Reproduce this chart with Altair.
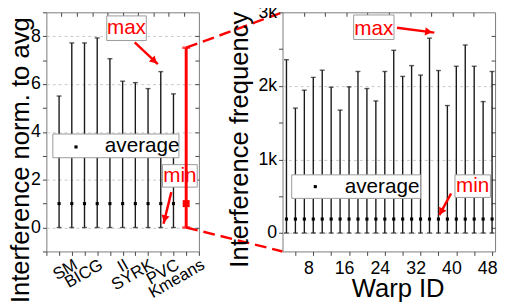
import math
import altair as alt
import pandas as pd

FONT = "Liberation Sans"
RED = "#ff0000"

# ---------------- data ----------------
bench_x = [1, 2, 3, 4, 5, 6, 7, 8, 9, 10]
bench_max = [5.50, 7.72, 7.72, 7.93, 7.06, 6.12, 6.06, 5.81, 6.52, 5.59]
bench_min = [0, 0, 0, 0, 0, 0, 0, 0, 0, 0]
bench_avg = [1, 1, 1, 1, 1, 1, 1, 1, 1, 1]
kmeans_x = [11]
kmeans_max = [7.52]
kmeans_min = [0]
kmeans_avg = [1.0]
bench_label_ticks = [2, 4, 6, 8, 10, 12]
bench_label_names = ["SM", "BICG", "II", "SYRK", "PVC", "Kmeans"]

warp_ids = [2, 4, 6, 8, 10, 12, 14, 16, 18, 20, 22, 24,
            26, 28, 30, 32, 34, 36, 38, 40, 42, 44, 46, 48]
warp_max = [2356, 1698, 1942, 2116, 2213, 1982, 1671, 1987, 2196, 1964, 1796, 2196,
            2484, 2129, 2276, 2147, 2649, 2209, 1733, 2267, 2556, 2267, 1787, 2196]
warp_min = [0, 0, 0, 0, 0, 0, 0, 0, 0, 0, 0, 0,
            0, 0, 0, 0, 0, 0, 0, 0, 0, 0, 0, 0]
warp_avg = [190, 190, 190, 190, 190, 190, 190, 190, 190, 190, 190, 190,
            190, 190, 190, 190, 190, 190, 190, 190, 190, 190, 190, 190]

# ---------------- layout ----------------
LEFT_W, RIGHT_W, H = 155, 216, 243
SPACING = 85
L_DOM_X, L_DOM_Y = [0, 12], [-1, 9]
R_DOM_X, R_DOM_Y = [1.12, 48.67], [-250, 3000]

LX = alt.Scale(domain=L_DOM_X, nice=False, zero=False)
LY = alt.Scale(domain=L_DOM_Y, nice=False, zero=False)
RX = alt.Scale(domain=R_DOM_X, nice=False, zero=False)
RY = alt.Scale(domain=R_DOM_Y, nice=False, zero=False)

# annotations (data units of each panel)
l_boxes = pd.DataFrame({"x": [4.75, 9.14, 0.51], "x2": [7.86, 11.87, 10.43],
                        "y": [8.85, 2.63, 3.91], "y2": [7.82, 1.69, 2.92]})
l_red_text = pd.DataFrame({"x": [6.3, 10.5], "y": [8.33, 2.16], "t": ["max", "min"]})
l_avg_text = pd.DataFrame({"x": [4.6], "y": [3.41], "t": ["average"]})
l_avg_mark = pd.DataFrame({"x": [2.33], "y": [3.37]})
l_arrows = pd.DataFrame({"x": [6.95, 9.83], "y": [7.74, 1.48],
                         "x2": [8.77, 9.22], "y2": [6.83, 0.16]})

r_boxes = pd.DataFrame({"x": [17.03, 39.70, 3.17], "x2": [26.06, 47.63, 32.0],
                        "y": [2964, 791, 791], "y2": [2631, 484, 471]})
r_red_text = pd.DataFrame({"x": [21.55, 43.67], "y": [2771, 637], "t": ["max", "min"]})
r_avg_text = pd.DataFrame({"x": [15.05], "y": [631], "t": ["average"]})
r_avg_mark = pd.DataFrame({"x": [8.45], "y": [631]})
r_arrows = pd.DataFrame({"x": [26.72, 38.83], "y": [2791, 537],
                         "x2": [35.08, 36.19], "y2": [2724, 244]})


def heads(df, dom_x, dom_y, w, h):
    kx = w / (dom_x[1] - dom_x[0])
    ky = h / (dom_y[1] - dom_y[0])
    rows = []
    for _, r in df.iterrows():
        dx = (r.x2 - r.x) * kx
        dy = -(r.y2 - r.y) * ky
        ang = math.degrees(math.atan2(dy, dx)) % 360
        rows.append({"x": r.x + 0.85 * (r.x2 - r.x), "y": r.y + 0.85 * (r.y2 - r.y), "a": ang})
    return pd.DataFrame(rows)


def lbl_expr(ticks, names):
    e = "''"
    for t, n in zip(reversed(ticks), reversed(names)):
        e = f"datum.value == {t} ? '{n}' : ({e})"
    return e


def panel(df_main, sx, sy, dom_x, dom_y, w, xaxis, yaxis, top_vals, right_vals,
          boxes, red_text, avg_text, avg_mark, arrows, cap, extra=None):
    top_axis = alt.Axis(orient="top", values=top_vals, labels=False, domain=False, grid=False,
                        tickSize=4, offset=-4, title=None)
    right_axis = alt.Axis(orient="right", values=right_vals, labels=False, domain=False,
                          grid=False, tickSize=4, offset=-4, title=None)
    base = alt.Chart(df_main)
    rules = base.mark_rule(color="#1a1a1a", strokeWidth=1.4).encode(
        x=alt.X("x:Q", scale=sx, axis=xaxis),
        y=alt.Y("lo:Q", scale=sy, axis=yaxis),
        y2="hi:Q")
    caps_hi = base.mark_tick(orient="horizontal", size=cap, thickness=1.4, color="#1a1a1a").encode(
        x=alt.X("x:Q", scale=sx, axis=top_axis),
        y=alt.Y("hi:Q", scale=sy, axis=right_axis))
    caps_lo = base.mark_tick(orient="horizontal", size=cap, thickness=1.4, color="#1a1a1a").encode(
        x=alt.X("x:Q", scale=sx, axis=None), y=alt.Y("lo:Q", scale=sy, axis=None))
    avg = base.mark_square(size=10, color="black", opacity=1).encode(
        x=alt.X("x:Q", scale=sx, axis=None), y=alt.Y("avg:Q", scale=sy, axis=None))

    box = alt.Chart(boxes).mark_rect(fill="white", stroke="#9a9a9a", strokeWidth=1).encode(
        x=alt.X("x:Q", scale=sx, axis=None), x2="x2:Q",
        y=alt.Y("y:Q", scale=sy, axis=None), y2="y2:Q")
    rtxt = alt.Chart(red_text).mark_text(font=FONT, fontSize=21, color=RED,
                                         align="center", baseline="middle").encode(
        x=alt.X("x:Q", scale=sx, axis=None), y=alt.Y("y:Q", scale=sy, axis=None), text="t:N")
    atxt = alt.Chart(avg_text).mark_text(font=FONT, fontSize=21, color="black",
                                         align="left", baseline="middle").encode(
        x=alt.X("x:Q", scale=sx, axis=None), y=alt.Y("y:Q", scale=sy, axis=None), text="t:N")
    amark = alt.Chart(avg_mark).mark_square(size=10, color="black", opacity=1).encode(
        x=alt.X("x:Q", scale=sx, axis=None), y=alt.Y("y:Q", scale=sy, axis=None))
    arr = alt.Chart(arrows).mark_rule(color=RED, strokeWidth=2.5).encode(
        x=alt.X("x:Q", scale=sx, axis=None), x2="x2:Q",
        y=alt.Y("y:Q", scale=sy, axis=None), y2="y2:Q")
    hd = alt.Chart(heads(arrows, dom_x, dom_y, w, H)).mark_point(
        shape="triangle-right", filled=True, color=RED, size=70, opacity=1).encode(
        x=alt.X("x:Q", scale=sx, axis=None), y=alt.Y("y:Q", scale=sy, axis=None),
        angle=alt.Angle("a:Q", scale=None))
    layers = [rules, caps_hi, caps_lo, avg, box, rtxt, atxt, amark, arr, hd]
    if extra:
        layers += extra
    return alt.layer(*layers).resolve_axis(x="independent", y="independent").properties(
        width=w, height=H)


# ---------- left panel ----------
left_df = pd.DataFrame({"x": bench_x, "lo": bench_min, "hi": bench_max, "avg": bench_avg})
km_df = pd.DataFrame({"x": kmeans_x, "lo": kmeans_min, "hi": kmeans_max, "avg": kmeans_avg})

lx_axis = alt.Axis(values=list(range(13)), labelExpr=lbl_expr(bench_label_ticks, bench_label_names),
                   labelAngle=330, labelAlign="right", labelBaseline="top", labelPadding=1,
                   labelFlush=False, labelOverlap=False, labelFontSize=17, tickSize=4,
                   grid=False, domain=False, title=None)
ly_axis = alt.Axis(values=list(range(-1, 10)),
                   labelExpr="datum.value >= 0 && datum.value % 2 == 0 ? datum.label : ''",
                   labelOverlap=False, labelFlush=False, labelPadding=2, labelFontSize=18,
                   tickSize=4, domain=False,
                   grid=True, gridDash=[3, 3], gridColor="#c8c8c8",
                   gridOpacity={"condition": {"test": "datum.value >= 0 && datum.value % 2 == 0",
                                              "value": 1}, "value": 0},
                   title="Interference norm. to avg", titleFontSize=26, titleFontWeight="normal",
                   titleAngle=270, titleAlign="left", titleBaseline="top",
                   titleX=-39, titleY=295)

conn_x_end = (LEFT_W + SPACING) / LEFT_W * (L_DOM_X[1] - L_DOM_X[0]) + L_DOM_X[0]
conn_df = pd.DataFrame({"x": [kmeans_x[0], kmeans_x[0]], "y": [kmeans_max[0], kmeans_min[0]],
                        "x2": [conn_x_end, conn_x_end], "y2": [L_DOM_Y[1], L_DOM_Y[0]]})

km_base = alt.Chart(km_df)
km_layers = [
    km_base.mark_rule(color=RED, strokeWidth=3).encode(
        x=alt.X("x:Q", scale=LX, axis=None), y=alt.Y("lo:Q", scale=LY, axis=None), y2="hi:Q"),
    km_base.mark_tick(orient="horizontal", size=8, thickness=2.5, color=RED).encode(
        x=alt.X("x:Q", scale=LX, axis=None), y=alt.Y("hi:Q", scale=LY, axis=None)),
    km_base.mark_tick(orient="horizontal", size=8, thickness=2.5, color=RED).encode(
        x=alt.X("x:Q", scale=LX, axis=None), y=alt.Y("lo:Q", scale=LY, axis=None)),
    km_base.mark_square(size=50, color=RED, opacity=1).encode(
        x=alt.X("x:Q", scale=LX, axis=None), y=alt.Y("avg:Q", scale=LY, axis=None)),
    alt.Chart(conn_df).mark_rule(color=RED, strokeWidth=2.5, strokeDash=[12, 6]).encode(
        x=alt.X("x:Q", scale=LX, axis=None), x2="x2:Q",
        y=alt.Y("y:Q", scale=LY, axis=None), y2="y2:Q"),
]

left = panel(left_df, LX, LY, L_DOM_X, L_DOM_Y, LEFT_W, lx_axis, ly_axis,
             [1.2 * k for k in range(1, 10)], list(range(0, 9)),
             l_boxes, l_red_text, l_avg_text, l_avg_mark, l_arrows, 5, extra=km_layers)

# ---------- right panel ----------
right_df = pd.DataFrame({"x": warp_ids, "lo": warp_min, "hi": warp_max, "avg": warp_avg})
rx_axis = alt.Axis(values=list(range(4, 49, 4)),
                   labelExpr="datum.value % 8 == 0 ? datum.label : ''",
                   labelFlush=False, labelOverlap=False, labelFontSize=18, labelOffset=-5,
                   labelBaseline="alphabetic", labelPadding=18, tickSize=4,
                   grid=False, domain=False,
                   title="Warp ID", titleFontSize=26, titleFontWeight="normal",
                   titleAlign="center", titleBaseline="alphabetic", titleX=117, titleY=46)
ry_axis = alt.Axis(values=list(range(0, 3001, 500)),
                   labelExpr="datum.value == 0 ? '0' : (datum.value % 1000 == 0 ? (datum.value / 1000) + 'k' : '')",
                   labelOverlap=False, labelFlush=False, labelPadding=2, labelFontSize=18,
                   tickSize=4, domain=False,
                   grid=True, gridDash=[3, 3], gridColor="#c8c8c8",
                   gridOpacity={"condition": {"test": "datum.value % 1000 == 0 && datum.value < 3000",
                                              "value": 1}, "value": 0},
                   title="Interference frequency", titleFontSize=26, titleFontWeight="normal",
                   titleAngle=270, titleAlign="left", titleBaseline="top",
                   titleX=-57, titleY=259)
r_top = [R_DOM_X[0] + k * (R_DOM_X[1] - R_DOM_X[0]) / 10 for k in range(1, 10)]
r_right = [R_DOM_Y[0] + k * (R_DOM_Y[1] - R_DOM_Y[0]) / 10 for k in range(1, 10)]
right = panel(right_df, RX, RY, R_DOM_X, R_DOM_Y, RIGHT_W, rx_axis, ry_axis,
              r_top, r_right, r_boxes, r_red_text, r_avg_text, r_avg_mark, r_arrows, 5)

chart = alt.hconcat(left, right, spacing=SPACING, bounds="flush").properties(
    autosize=alt.AutoSizeParams(type="none"),
    padding={"left": 39, "top": 0, "right": 460, "bottom": 297},
).configure_view(stroke="#7a7a7a", strokeWidth=1).configure_axis(
    labelFont=FONT, titleFont=FONT, labelColor="black", titleColor="black",
    tickColor="#444")

chart.save("out.html", embed_options={"renderer": "svg", "actions": False})
